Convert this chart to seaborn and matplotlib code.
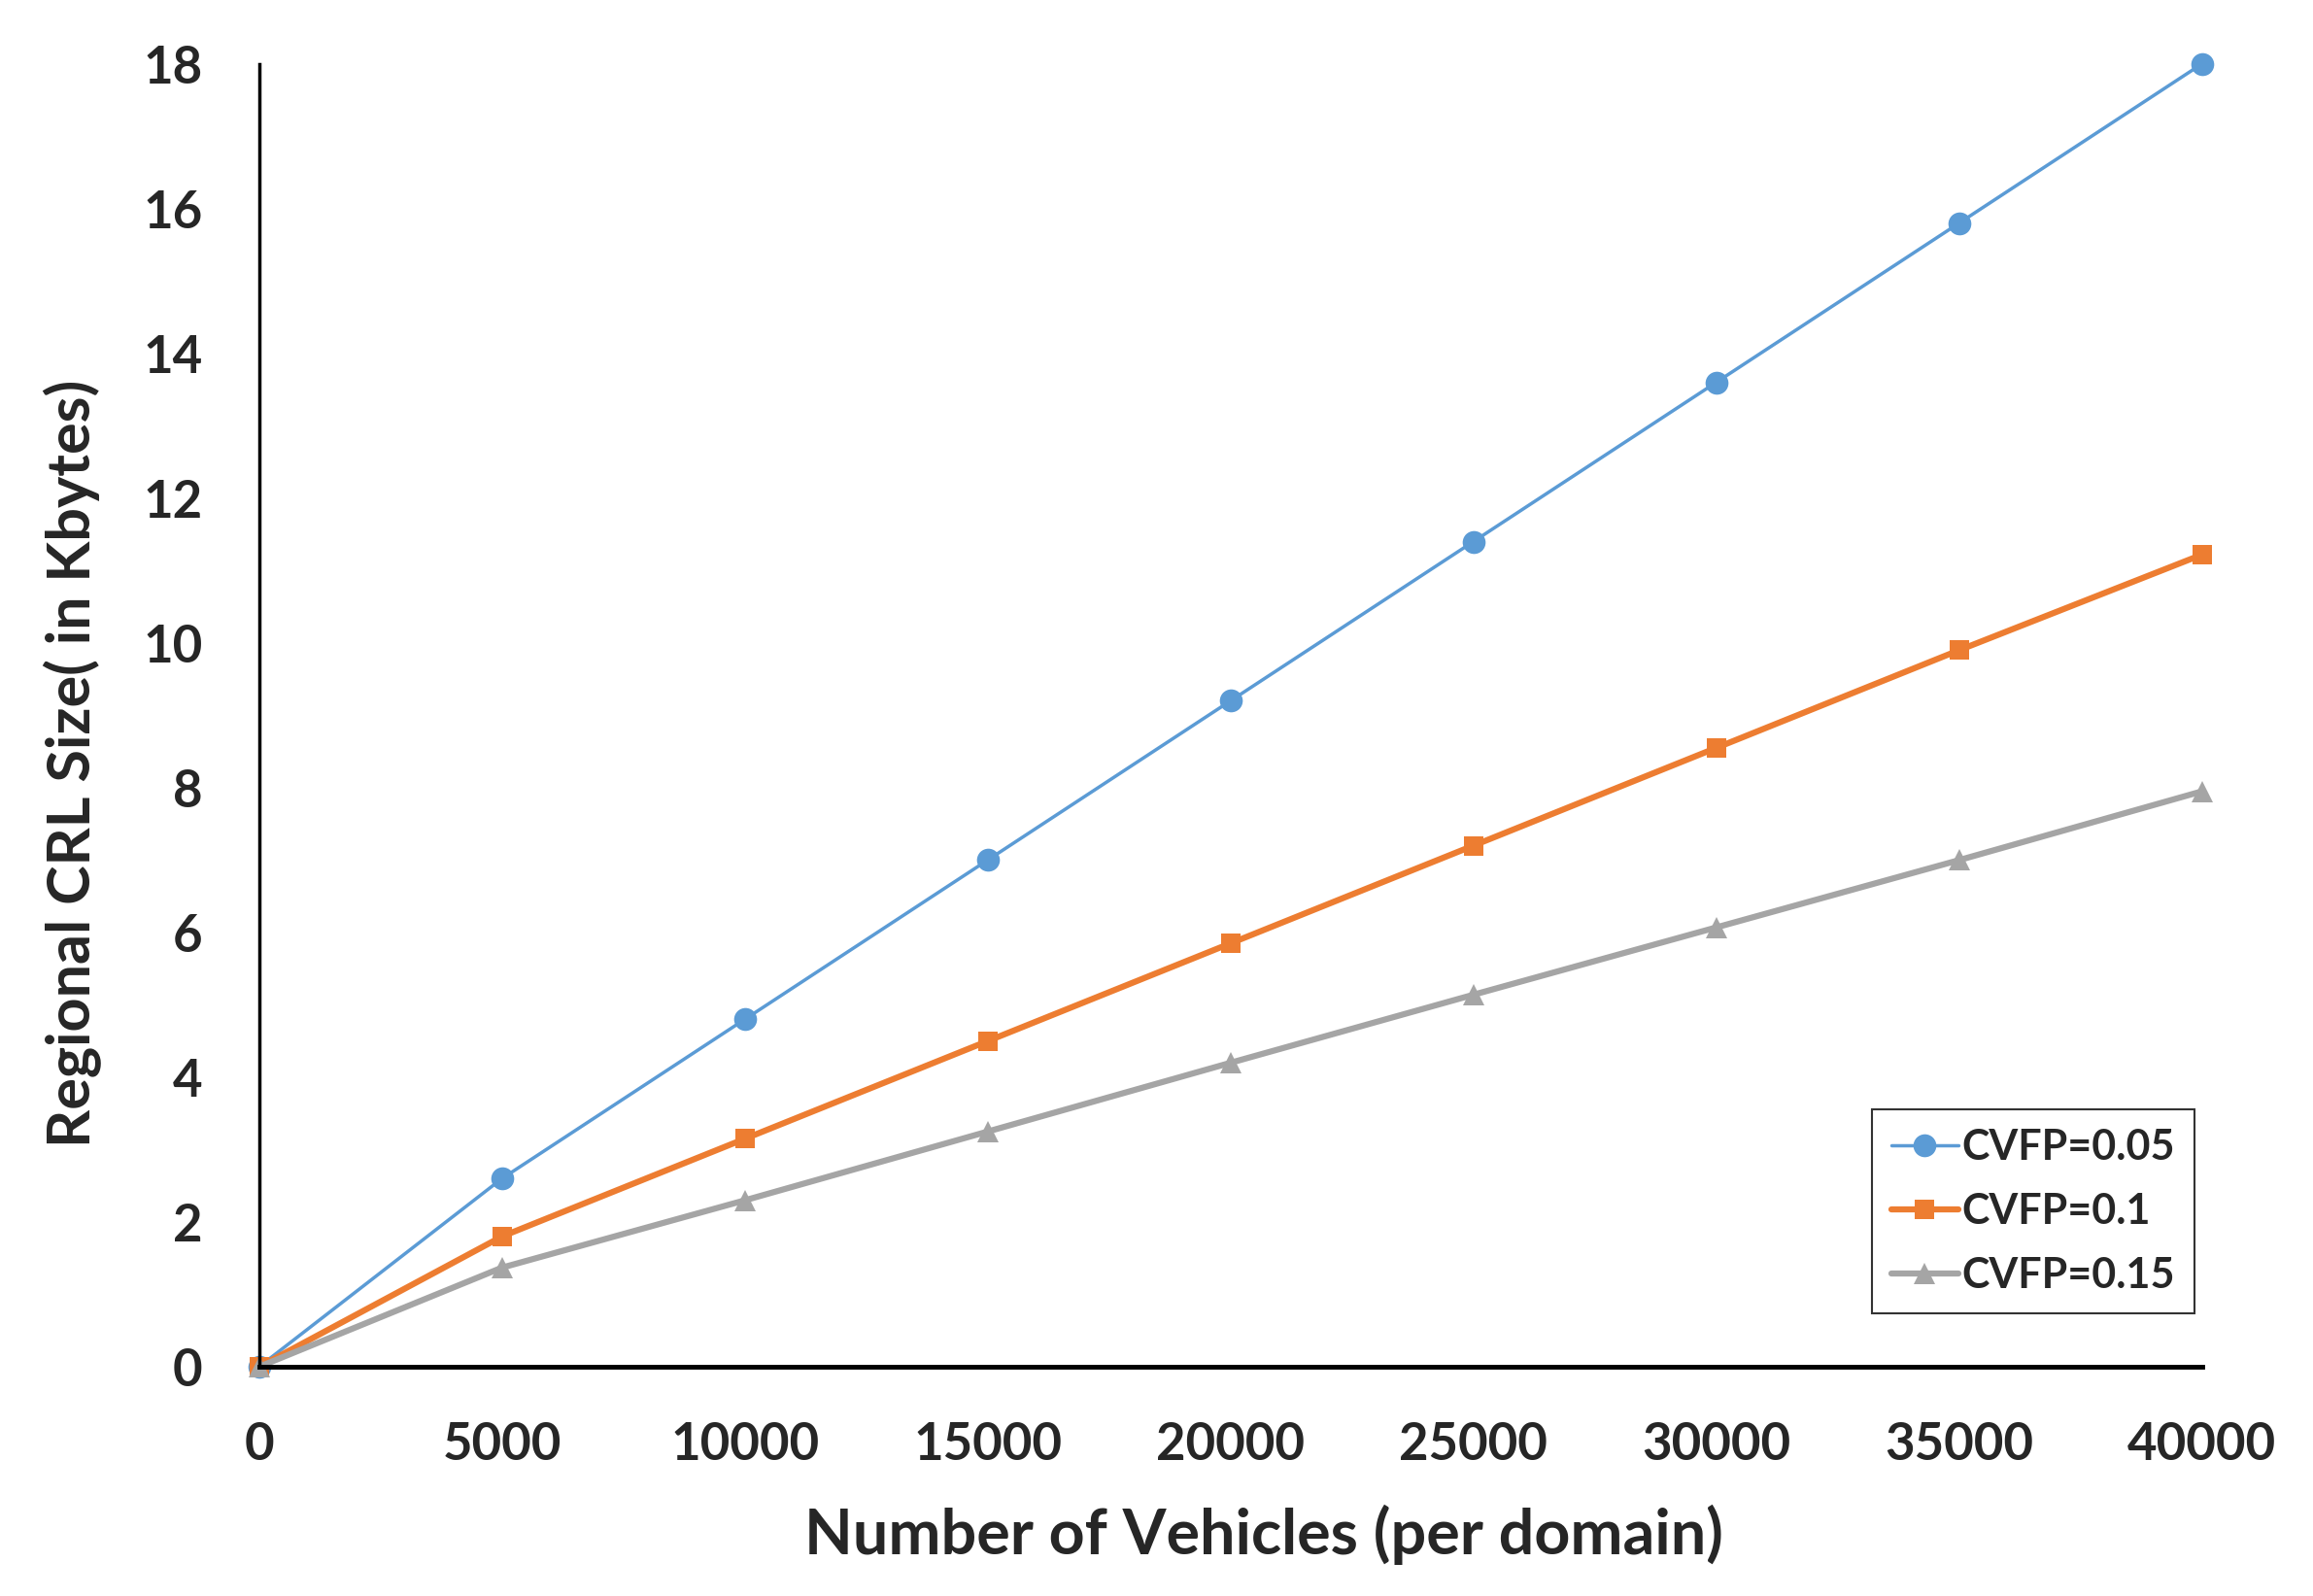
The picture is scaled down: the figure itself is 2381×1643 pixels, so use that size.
import numpy as np
import pandas as pd
import seaborn as sns
import matplotlib.pyplot as plt

vehicles = [0, 5000, 10000, 15000, 20000, 25000, 30000, 35000, 40000]
cvfp_005 = [0, 2.6, 4.8, 7.0, 9.2, 11.4, 13.6, 15.8, 18.0]
cvfp_01 = [0, 1.8, 3.15, 4.5, 5.85, 7.2, 8.55, 9.9, 11.22]
cvfp_015 = [0, 1.37, 2.3, 3.25, 4.2, 5.14, 6.07, 7.0, 7.95]
labels = ['CVFP=0.05', 'CVFP=0.1', 'CVFP=0.15']

sns.set_style('white')
plt.rcParams['font.family'] = ['Lato', 'DejaVu Sans']
plt.rcParams['font.weight'] = 'bold'

fig = plt.figure(figsize=(23.81, 16.43), dpi=100)
ax = fig.add_axes([0.112, 0.1436, 0.84, 0.8164])

series = [cvfp_005, cvfp_01, cvfp_015]
colors = ['#5B9BD5', '#ED7D31', '#A5A5A5']
markers = ['o', 's', '^']
widths = [2.5, 4.5, 4.5]
msizes = [17, 15, 16]

for vals, lab, c, m, lw, ms in zip(series, labels, colors, markers, widths, msizes):
    df = pd.DataFrame({'x': vehicles, 'y': vals})
    sns.lineplot(data=df, x='x', y='y', ax=ax, color=c, lw=lw, marker=m,
                 markersize=ms, markeredgewidth=0, label=lab, clip_on=False)

ax.set_xlim(0, 40000)
ax.set_ylim(0, 18)
ax.set_xticks(range(0, 40001, 5000))
ax.set_yticks(range(0, 19, 2))
for s in ['top', 'right']:
    ax.spines[s].set_visible(False)
ax.spines['left'].set_color('black')
ax.spines['bottom'].set_color('black')
ax.spines['left'].set_linewidth(2.5)
ax.spines['bottom'].set_linewidth(3.5)
ax.tick_params(axis='x', length=0, pad=40, labelsize=38)
ax.tick_params(axis='y', length=0, pad=42, labelsize=38)
for t in ax.get_xticklabels() + ax.get_yticklabels():
    t.set_fontweight('bold')

ax.set_xlabel('Number of Vehicles (per domain)', fontsize=46.5, fontweight='bold')
ax.set_ylabel('Regional CRL Size( in Kbytes)', fontsize=44, fontweight='bold')
ax.xaxis.set_label_coords(0.517, -0.106)
ax.yaxis.set_label_coords(-0.081, 0.463)

leg = ax.legend(loc='lower right', bbox_to_anchor=(0.996, 0.041), fontsize=31,
                frameon=True, fancybox=False, handlelength=1.6, handletextpad=0.1,
                borderpad=0.45, labelspacing=0.6, borderaxespad=0)
leg.get_frame().set_edgecolor('black')
leg.get_frame().set_linewidth(1.5)
for t in leg.get_texts():
    t.set_fontweight('bold')

fig.savefig('out.png', dpi=100, facecolor='white')
